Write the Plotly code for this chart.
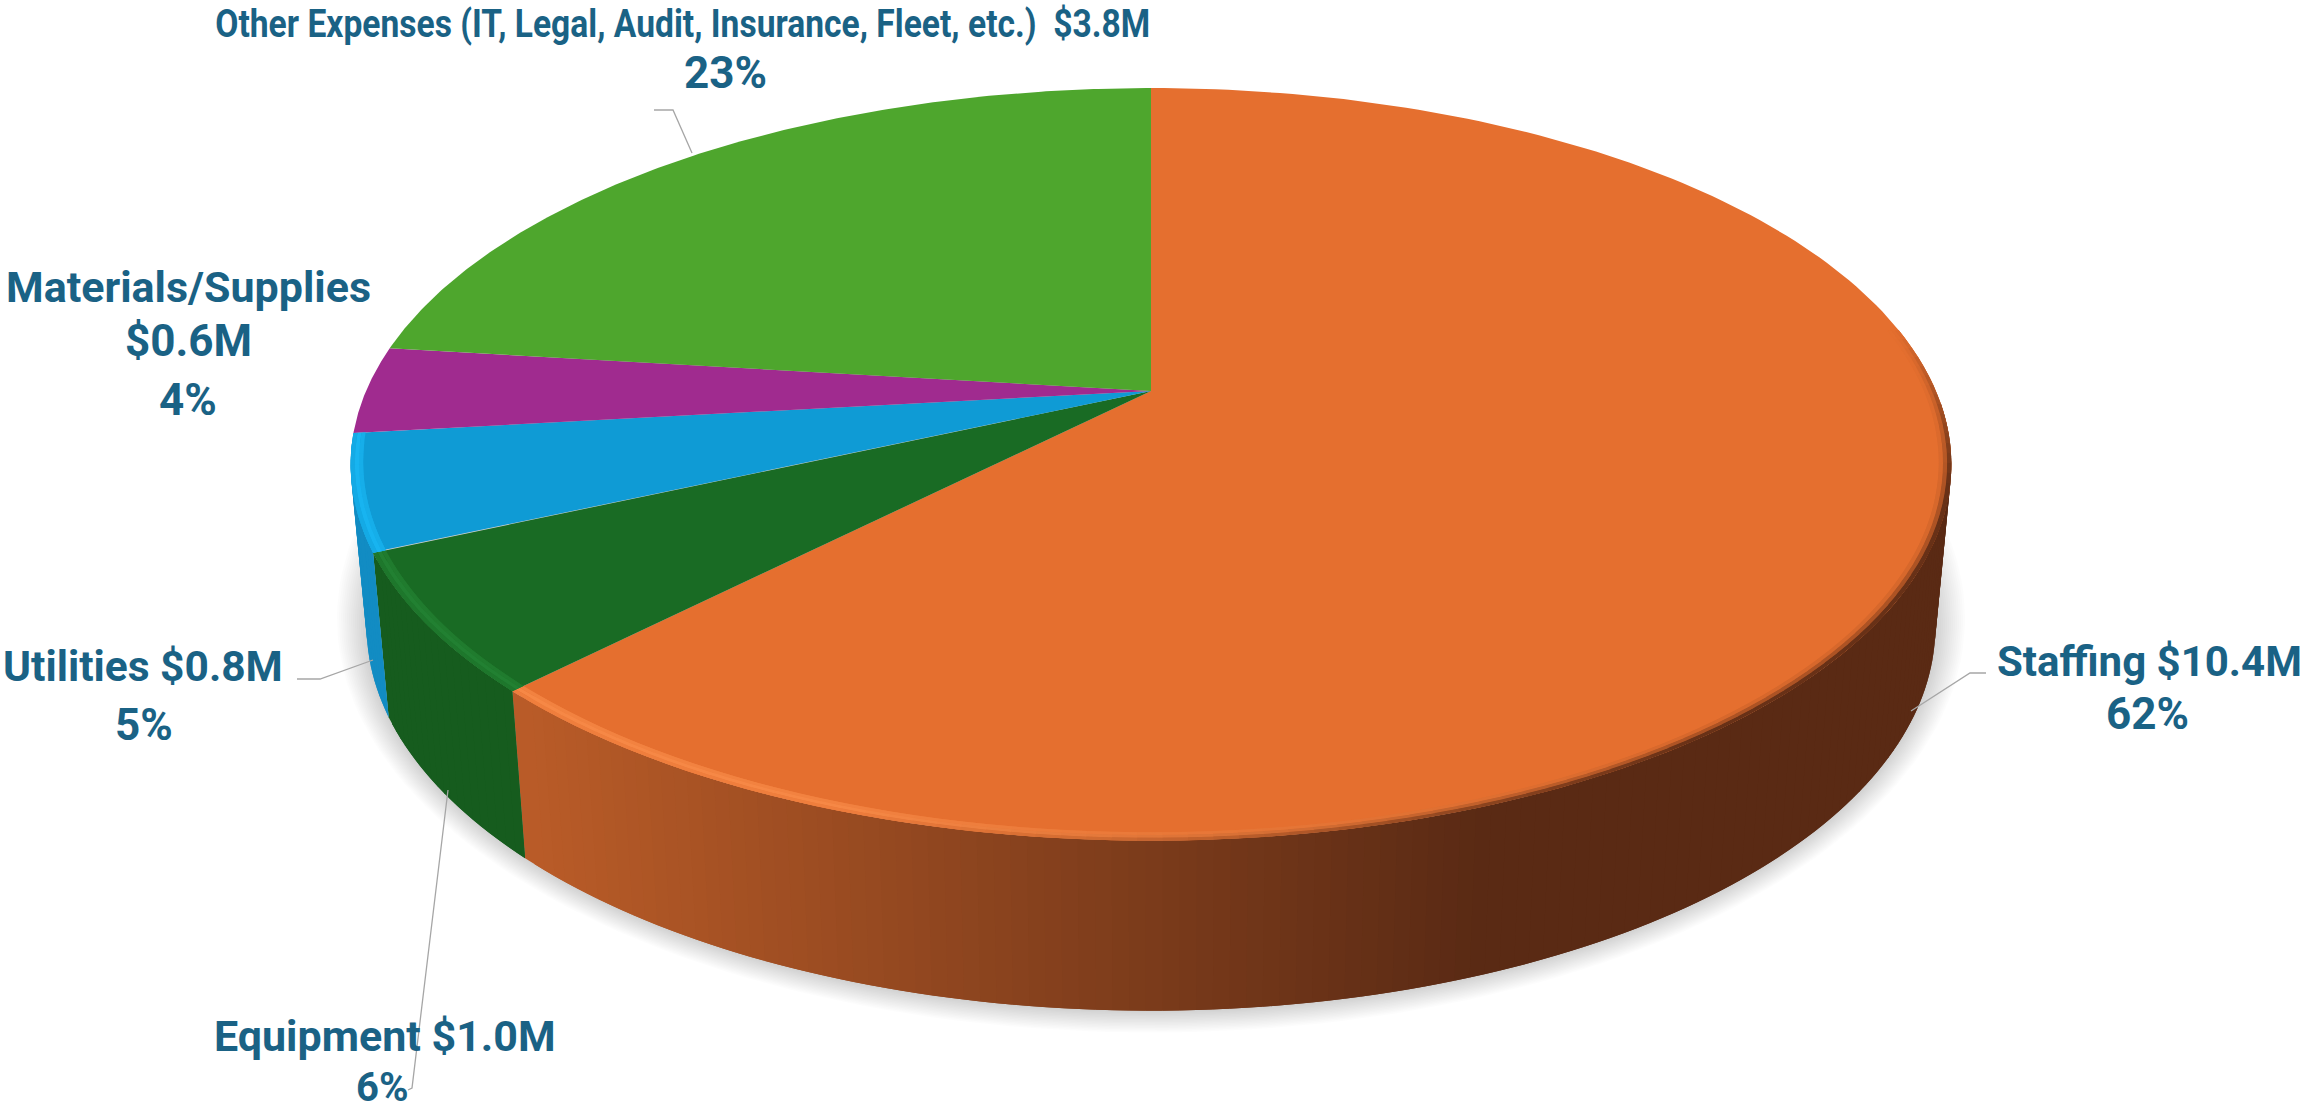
import numpy as np
import plotly.graph_objects as go

# ---- data ----
categories = ["Staffing", "Equipment", "Utilities", "Materials/Supplies", "Other Expenses"]
values = [10.35, 0.98, 0.82, 0.62, 3.83]
top_colors = [(229, 111, 47), (25, 107, 36), (15, 155, 213), (160, 43, 143), (78, 166, 45)]
wall_start = [(186, 92, 40), (22, 92, 30), (18, 140, 195), (130, 35, 115), (60, 130, 35)]
wall_end = [(90, 42, 20), (20, 85, 28), (18, 140, 195), (130, 35, 115), (60, 130, 35)]
rim_light = [(246, 136, 70), (34, 128, 50), (24, 180, 240), (170, 50, 150), (85, 175, 50)]

label_lines = ["Other Expenses (IT, Legal, Audit, Insurance, Fleet, etc.)  $3.8M", "23%",
               "Materials/Supplies", "$0.6M", "4%",
               "Utilities $0.8M", "5%",
               "Staffing $10.4M", "62%",
               "Equipment $1.0M", "6%"]
label_x = [682, 725, 188, 188, 188, 143, 144, 2149, 2147, 385, 382]
label_y = [24, 73, 287, 341, 400, 666, 725, 661, 714, 1036, 1087]
label_size = [38, 44, 43, 44, 44, 42.5, 44, 42, 44, 43, 40]
TEXT = "#1A6285"

leaders = [([654, 673, 692], [110, 110, 153]),
           ([297, 320, 373], [679, 679, 660]),
           ([1986, 1970, 1911], [673, 673, 711]),
           ([448, 412, 408], [790, 1088, 1090])]

# ---- projection of the disc ----
CX, CY, A, B, K = 1151.0, 391.0, 785.0, 362.0, 0.195
DROP, SHRINK_X, SHRINK_Y = 161.0, 0.98, 1.02


def top_xy(theta, r=1.0):
    u, v = r * np.sin(theta), r * np.cos(theta)
    w = 1 + K * v
    return CX + A * u / w, CY - B * v / w


def bottom_xy(theta):
    x, y = top_xy(theta)
    return CX + SHRINK_X * (x - CX), CY + DROP + SHRINK_Y * (y - CY)


def rgb(c):
    return "rgb(%d,%d,%d)" % tuple(int(round(i)) for i in c)


def mix(a, b, t):
    return tuple(a[i] + (b[i] - a[i]) * t for i in range(3))


def poly(x, y, color):
    return go.Scatter(x=list(x), y=list(y), mode="lines", fill="toself", fillcolor=color,
                      line=dict(width=0), hoverinfo="skip", showlegend=False)


edges = np.concatenate([[0], np.cumsum(values)]) / np.sum(values) * 2 * np.pi
fig = go.Figure()

# soft shadow
t = np.linspace(0, 2 * np.pi, 240)
bx, by = bottom_xy(t)
for e in np.linspace(30, 2, 15):
    sx = CX + (bx - CX) * (1 + e / 790)
    sy = 790 + (by - 790) * (1 + e / 380) + e * 0.15
    fig.add_trace(go.Scatter(x=sx, y=sy, mode="lines", fill="toself", fillcolor="rgba(0,0,0,0.011)",
                             line=dict(width=0), hoverinfo="skip", showlegend=False))


def wall_color(i, th):
    if i == 0:
        f = np.clip((top_xy(edges[1])[0] - top_xy(th)[0]) * -1 / 958, 0, 1)
        return mix(wall_start[0], wall_end[0], f)
    return wall_start[i]


# side wall, from right to left
lo, hi = np.radians(92), edges[3]
for i in range(3):
    a0, a1 = max(edges[i], lo), min(edges[i + 1], hi)
    n = max(2, int(np.degrees(a1 - a0) / 1.0))
    ts = np.linspace(a0, a1, n + 1)
    step = ts[1] - ts[0]
    for j in range(n):
        tt = np.linspace(max(a0, ts[j] - step), ts[j + 1], 4)
        xa, ya = top_xy(tt)
        xb, yb = bottom_xy(tt[::-1])
        fig.add_trace(poly(np.r_[xa, xb], np.r_[ya, yb], rgb(wall_color(i, ts[j]))))

# top face
for i in range(len(values)):
    tt = np.linspace(edges[i], edges[i + 1], 200)
    x, y = top_xy(tt)
    fig.add_trace(poly(np.r_[CX, x, CX], np.r_[CY, y, CY], rgb(top_colors[i])))

# bevel along the front rim
rings = [0.985, 0.990, 0.995, 1.0]
for i in range(3):
    a0, a1 = max(edges[i], np.radians(80)), min(edges[i + 1], hi)
    n = max(2, int(np.degrees(a1 - a0) / 1.5))
    ts = np.linspace(a0, a1, n + 1)
    step = ts[1] - ts[0]
    for j in range(n):
        th = ts[j]
        lit = np.clip((np.degrees(th) - 145) / 55, 0, 1)
        fade = np.clip((np.degrees(th) - 80) / 25, 0, 1)
        for q in range(len(rings) - 1):
            f = (q + 1) / (len(rings) - 1)
            c = mix(top_colors[i], rim_light[i], lit * np.sin(np.pi * f * 0.8))
            c = mix(c, wall_color(i, th), (1 - lit) * fade * f ** 2 * 0.9)
            tt = np.linspace(max(a0, ts[j] - step), ts[j + 1], 4)
            xa, ya = top_xy(tt, rings[q + 1])
            xb, yb = top_xy(tt[::-1], rings[q])
            fig.add_trace(poly(np.r_[xa, xb], np.r_[ya, yb], rgb(c)))

# leader lines
for lx, ly in leaders:
    fig.add_trace(go.Scatter(x=lx, y=ly, mode="lines", line=dict(color="#A6A6A6", width=1.3),
                             hoverinfo="skip", showlegend=False))

# labels
for s, x, y, size in zip(label_lines, label_x, label_y, label_size):
    fig.add_annotation(x=x, y=y, text=s, showarrow=False, xanchor="center", yanchor="middle",
                       font=dict(family="Roboto", size=size, color=TEXT, weight="bold"))

fig.update_layout(width=2305, height=1110, margin=dict(l=0, r=0, t=0, b=0),
                  paper_bgcolor="white", plot_bgcolor="white", showlegend=False,
                  xaxis=dict(range=[0, 2305], visible=False, fixedrange=True),
                  yaxis=dict(range=[1110, 0], visible=False, fixedrange=True))
squeeze = """
document.body.style.margin='0';document.body.style.overflow='hidden';
function squeeze(){document.querySelectorAll('.annotation-text').forEach(function(e){
 if(e.textContent.indexOf('Other Expenses')===0){e.setAttribute('textLength','935');e.setAttribute('lengthAdjust','spacingAndGlyphs');}
});}
squeeze();setTimeout(squeeze,100);
"""
fig.write_html("out.html", post_script=squeeze, config={"displayModeBar": False})
